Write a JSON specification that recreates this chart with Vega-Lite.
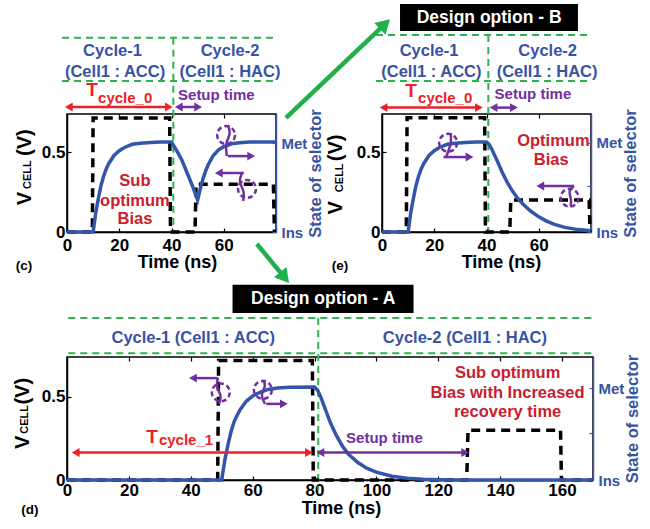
{
"$schema": "https://vega.github.io/schema/vega-lite/v6.json",
"background": "white",
"autosize": {"type": "pad"},
"padding": {"left": 12, "top": 3, "right": 0, "bottom": 0},
"bounds": "full",
"spacing": -1,
"config": {
  "view": {"stroke": "#000000", "strokeWidth": 1.5},
  "font": "Liberation Sans",
  "axis": {"labelFont": "Liberation Sans", "labelFontWeight": "bold", "labelFontSize": 17, "labelColor": "#000000", "titleFont": "Liberation Sans", "titleFontWeight": "bold", "titleFontSize": 18, "titleColor": "#000000", "grid": false, "domainColor": "#000000", "domainWidth": 1.5, "tickColor": "#000000", "tickWidth": 1.2, "tickSize": -4, "labelFlush": false, "labelOverlap": false},
  "text": {"font": "Liberation Sans", "fontWeight": "bold"}
},
"datasets": {
  "c_v": [{"x":0,"y":0},{"x":10,"y":0},{"x":11,"y":0.12},{"x":12,"y":0.21},{"x":13,"y":0.29},{"x":14,"y":0.35},{"x":15,"y":0.395},{"x":16,"y":0.43},{"x":18,"y":0.48},{"x":20,"y":0.51},{"x":22,"y":0.53},{"x":25,"y":0.55},{"x":28,"y":0.557},{"x":32,"y":0.562},{"x":36,"y":0.564},{"x":40,"y":0.565},{"x":42,"y":0.51},{"x":44,"y":0.45},{"x":46,"y":0.37},{"x":48,"y":0.29},{"x":50,"y":0.2},{"x":51,"y":0.27},{"x":52,"y":0.33},{"x":53,"y":0.38},{"x":54,"y":0.42},{"x":56,"y":0.48},{"x":58,"y":0.515},{"x":60,"y":0.535},{"x":63,"y":0.553},{"x":66,"y":0.56},{"x":70,"y":0.565},{"x":80,"y":0.565}],
  "c_s": [{"x":0,"y":0},{"x":9.7,"y":0},{"x":10,"y":0.715},{"x":39.3,"y":0.715},{"x":39.6,"y":0},{"x":49,"y":0},{"x":49.4,"y":0.3},{"x":79,"y":0.3},{"x":79.4,"y":0}],
  "c_rules": [
    {"x":-1.9,"x2":79.6,"y":1.218,"y2":1.218,"kind":"frame"},
    {"x":-1.9,"x2":79.6,"y":0.947,"y2":0.947,"kind":"frame"},
    {"x":40.7,"x2":40.7,"y":1.218,"y2":-0.01,"kind":"frame"},
    {"x":0.7,"x2":39,"y":0.784,"y2":0.784,"kind":"cycle"},
    {"x":42.8,"x2":50.2,"y":0.784,"y2":0.784,"kind":"setup"},
    {"x":61.6,"x2":70.5,"y":0.476,"y2":0.476,"kind":"move"},
    {"x":67.7,"x2":58.1,"y":0.37,"y2":0.37,"kind":"move"},
    {"x":83.8,"x2":121.7,"y":0.715,"y2":1.304,"kind":"link"},
    {"x":72.7,"x2":83.3,"y":-0.075,"y2":-0.286,"kind":"link"}
  ],
  "c_heads": [
    {"x":0.7,"y":0.784,"dir":"L","kind":"cycle"},{"x":39,"y":0.784,"dir":"R","kind":"cycle"},
    {"x":42.8,"y":0.784,"dir":"L","kind":"setup"},{"x":50.2,"y":0.784,"dir":"R","kind":"setup"},
    {"x":70.5,"y":0.476,"dir":"R","kind":"move"},{"x":58.1,"y":0.37,"dir":"L","kind":"move"}
  ],
  "c_links": [{"x":121.7,"y":1.304,"leg":"to B"},{"x":83.3,"y":-0.286,"leg":"to A"}],
  "c_circ": [{"x":60.9,"y":0.608},{"x":68.9,"y":0.27}],
  "c_sq": [
    {"x":61.6,"y":0.671,"id":1,"i":0},{"x":62.8,"y":0.614,"id":1,"i":1},{"x":60.5,"y":0.558,"id":1,"i":2},{"x":61.2,"y":0.476,"id":1,"i":3},
    {"x":67,"y":0.37,"id":2,"i":0},{"x":65.5,"y":0.313,"id":2,"i":1},{"x":68.1,"y":0.257,"id":2,"i":2},{"x":67.4,"y":0.194,"id":2,"i":3}
  ],
  "c_text": [
    {"x":17.4,"y":1.135,"label":"Cycle-1","role":"cycle"},
    {"x":18.4,"y":1.006,"label":"(Cell1 : ACC)","role":"cycle"},
    {"x":62.4,"y":1.135,"label":"Cycle-2","role":"cycle"},
    {"x":62.4,"y":1.006,"label":"(Cell1 : HAC)","role":"cycle"},
    {"x":9.6,"y":0.89,"label":"T","role":"T"},
    {"x":11.9,"y":0.843,"label":"cycle_0","role":"Tsub"},
    {"x":42.5,"y":0.859,"label":"Setup time","role":"setup"},
    {"x":26,"y":0.32,"label":"Sub","role":"bias"},
    {"x":26,"y":0.194,"label":"optimum","role":"bias"},
    {"x":26,"y":0.08,"label":"Bias","role":"bias"},
    {"x":-16.5,"y":-0.213,"label":"(c)","role":"panel"},
    {"x":-16.1,"y":0.21,"label":"V","role":"ybig"},
    {"x":-14.9,"y":0.36,"label":"CELL","role":"ysmall"},
    {"x":-16.1,"y":0.56,"label":"(V)","role":"ybig"}
  ],
  "c_right": [{"x":0,"y":0},{"x":0,"y":0.29},{"x":0,"y":0.556}],
  "e_v": [{"x":0,"y":0},{"x":10,"y":0},{"x":11,"y":0.12},{"x":12,"y":0.21},{"x":13,"y":0.29},{"x":14,"y":0.35},{"x":15,"y":0.395},{"x":16,"y":0.43},{"x":18,"y":0.48},{"x":20,"y":0.51},{"x":22,"y":0.53},{"x":25,"y":0.55},{"x":28,"y":0.557},{"x":32,"y":0.562},{"x":36,"y":0.564},{"x":40,"y":0.565},{"x":41,"y":0.55},{"x":42,"y":0.52},{"x":43,"y":0.485},{"x":44,"y":0.45},{"x":46,"y":0.375},{"x":48,"y":0.31},{"x":50,"y":0.255},{"x":52,"y":0.21},{"x":54,"y":0.174},{"x":57,"y":0.13},{"x":60,"y":0.095},{"x":63,"y":0.068},{"x":66,"y":0.048},{"x":70,"y":0.029},{"x":75,"y":0.015},{"x":80,"y":0.008}],
  "e_s": [{"x":0,"y":0},{"x":9.3,"y":0},{"x":9.6,"y":0.717},{"x":39.3,"y":0.717},{"x":39.6,"y":0},{"x":48.9,"y":0},{"x":49.3,"y":0.2},{"x":79.3,"y":0.2},{"x":79.6,"y":0}],
  "e_rules": [
    {"x":-2.3,"x2":79.6,"y":1.235,"y2":1.235,"kind":"frame"},
    {"x":-2.3,"x2":79.6,"y":0.947,"y2":0.947,"kind":"frame"},
    {"x":40.7,"x2":40.7,"y":1.235,"y2":-0.01,"kind":"frame"},
    {"x":0.6,"x2":37.1,"y":0.78,"y2":0.78,"kind":"cycle"},
    {"x":42.7,"x2":50.5,"y":0.78,"y2":0.78,"kind":"setup"},
    {"x":23.5,"x2":33.5,"y":0.47,"y2":0.47,"kind":"move"},
    {"x":73.5,"x2":60.6,"y":0.288,"y2":0.288,"kind":"move"}
  ],
  "e_heads": [
    {"x":0.6,"y":0.78,"dir":"L","kind":"cycle"},{"x":37.1,"y":0.78,"dir":"R","kind":"cycle"},
    {"x":42.7,"y":0.78,"dir":"L","kind":"setup"},{"x":50.5,"y":0.78,"dir":"R","kind":"setup"},
    {"x":33.5,"y":0.47,"dir":"R","kind":"move"},{"x":60.6,"y":0.288,"dir":"L","kind":"move"}
  ],
  "e_box": [{"x":6.9,"x2":75,"y":1.43,"y2":1.26}],
  "e_circ": [{"x":25.3,"y":0.56},{"x":71.8,"y":0.215}],
  "e_sq": [
    {"x":26.3,"y":0.62,"id":1,"i":0},{"x":26.6,"y":0.56,"id":1,"i":1},{"x":25.2,"y":0.5,"id":1,"i":2},{"x":24.6,"y":0.47,"id":1,"i":3},
    {"x":73.5,"y":0.288,"id":2,"i":0},{"x":71.2,"y":0.262,"id":2,"i":1},{"x":72.6,"y":0.2,"id":2,"i":2},{"x":72.2,"y":0.16,"id":2,"i":3}
  ],
  "e_text": [
    {"x":18,"y":1.135,"label":"Cycle-1","role":"cycle"},
    {"x":18.9,"y":1.003,"label":"(Cell1 : ACC)","role":"cycle"},
    {"x":63.4,"y":1.135,"label":"Cycle-2","role":"cycle"},
    {"x":63.2,"y":1.003,"label":"(Cell1 : HAC)","role":"cycle"},
    {"x":11.1,"y":0.884,"label":"T","role":"T"},
    {"x":13.8,"y":0.842,"label":"cycle_0","role":"Tsub"},
    {"x":43.1,"y":0.867,"label":"Setup time","role":"setup"},
    {"x":65.6,"y":0.57,"label":"Optimum","role":"bias"},
    {"x":64.8,"y":0.45,"label":"Bias","role":"bias"},
    {"x":-16.1,"y":-0.213,"label":"(e)","role":"panel"},
    {"x":41,"y":1.342,"label":"Design option - B","role":"banner"},
    {"x":-17.5,"y":0.152,"label":"V","role":"ybig"},
    {"x":-16.2,"y":0.34,"label":"CELL","role":"ysmall"},
    {"x":-17.5,"y":0.528,"label":"(V)","role":"ybig"}
  ],
  "e_right": [{"x":0,"y":0},{"x":0,"y":0.29},{"x":0,"y":0.56}],
  "d_v": [{"x":0,"y":0},{"x":50,"y":0},{"x":51,"y":0.12},{"x":52,"y":0.21},{"x":53,"y":0.29},{"x":54,"y":0.35},{"x":55,"y":0.39},{"x":56,"y":0.425},{"x":58,"y":0.475},{"x":60,"y":0.505},{"x":62,"y":0.525},{"x":65,"y":0.545},{"x":68,"y":0.553},{"x":72,"y":0.558},{"x":80,"y":0.56},{"x":81,"y":0.54},{"x":82,"y":0.5},{"x":83,"y":0.45},{"x":84,"y":0.4},{"x":85,"y":0.35},{"x":87,"y":0.27},{"x":89,"y":0.205},{"x":91,"y":0.155},{"x":94,"y":0.105},{"x":97,"y":0.07},{"x":100,"y":0.047},{"x":105,"y":0.023},{"x":110,"y":0.011},{"x":115,"y":0.005},{"x":120,"y":0.002},{"x":125,"y":0},{"x":170,"y":0}],
  "d_s": [{"x":0,"y":0},{"x":48.7,"y":0},{"x":49,"y":0.719},{"x":79.3,"y":0.719},{"x":79.6,"y":0},{"x":129.2,"y":0},{"x":129.6,"y":0.3},{"x":159.5,"y":0.3},{"x":159.8,"y":0},{"x":170,"y":0}],
  "d_rules": [
    {"x":0.4,"x2":169.5,"y":0.974,"y2":0.974,"kind":"frame"},
    {"x":0.4,"x2":169.5,"y":0.763,"y2":0.763,"kind":"frame"},
    {"x":81.2,"x2":81.2,"y":0.974,"y2":-0.06,"kind":"frame"},
    {"x":2.8,"x2":78.2,"y":0.165,"y2":0.165,"kind":"cycle"},
    {"x":81.9,"x2":128.7,"y":0.165,"y2":0.165,"kind":"setup"},
    {"x":48.7,"x2":40.7,"y":0.613,"y2":0.613,"kind":"move"},
    {"x":64.4,"x2":70.1,"y":0.458,"y2":0.458,"kind":"move"}
  ],
  "d_heads": [
    {"x":2.8,"y":0.165,"dir":"L","kind":"cycle"},{"x":78.2,"y":0.165,"dir":"R","kind":"cycle"},
    {"x":81.9,"y":0.165,"dir":"L","kind":"setup"},{"x":128.7,"y":0.165,"dir":"R","kind":"setup"},
    {"x":40.7,"y":0.613,"dir":"L","kind":"move"},{"x":70.1,"y":0.458,"dir":"R","kind":"move"}
  ],
  "d_box": [{"x":53.5,"x2":112,"y":1.175,"y2":1.004}],
  "d_circ": [{"x":49.7,"y":0.527},{"x":63.3,"y":0.542}],
  "d_sq": [
    {"x":48.8,"y":0.615,"id":1,"i":0},{"x":48.1,"y":0.56,"id":1,"i":1},{"x":50.1,"y":0.506,"id":1,"i":2},{"x":49.1,"y":0.458,"id":1,"i":3},
    {"x":63.4,"y":0.602,"id":2,"i":0},{"x":64.4,"y":0.566,"id":2,"i":1},{"x":62.4,"y":0.512,"id":2,"i":2},{"x":64,"y":0.458,"id":2,"i":3}
  ],
  "d_text": [
    {"x":40.8,"y":0.853,"label":"Cycle-1 (Cell1 : ACC)","role":"cycle"},
    {"x":128.6,"y":0.855,"label":"Cycle-2 (Cell1 : HAC)","role":"cycle"},
    {"x":27.5,"y":0.261,"label":"T","role":"T"},
    {"x":29.7,"y":0.241,"label":"cycle_1","role":"Tsub"},
    {"x":102.6,"y":0.251,"label":"Setup time","role":"setup"},
    {"x":142.4,"y":0.643,"label":"Sub optimum","role":"bias"},
    {"x":142.4,"y":0.526,"label":"Bias with Increased","role":"bias"},
    {"x":142.4,"y":0.412,"label":"recovery time","role":"bias"},
    {"x":-12,"y":-0.181,"label":"(d)","role":"panel"},
    {"x":82.8,"y":1.09,"label":"Design option - A","role":"banner"},
    {"x":-14.3,"y":0.226,"label":"V","role":"ybig"},
    {"x":-13.7,"y":0.365,"label":"CELL","role":"ysmall"},
    {"x":-14.3,"y":0.534,"label":"(V)","role":"ybig"}
  ],
  "d_right": [{"x":0,"y":0},{"x":0,"y":0.28},{"x":0,"y":0.552}]
},
"vconcat": [
 {
 "hconcat": [
  {
    "width": 209, "height": 118,
    "layer": [
      {
        "encoding": {
          "x": {"field":"x","type":"quantitative","scale":{"domain":[0,80],"nice":false,"zero":false},"axis":{"values":[0,20,40,60],"title":"Time (ns)","titleX":110,"labelPadding":9,"titlePadding":0}},
          "y": {"field":"y","type":"quantitative","scale":{"domain":[0,0.74],"nice":false,"zero":false},"axis":{"values":[0,0.5],"format":"~g","title":null,"labelPadding":6}}
        },
        "layer": [
          {"data":{"name":"c_rules"},"transform":[{"filter":"datum.kind == 'frame'"}],"mark":{"type":"rule","color":"#2db34d","strokeWidth":2,"strokeDash":[7,5]},"encoding":{"x2":{"field":"x2"},"y2":{"field":"y2"}}},
          {"data":{"name":"c_s"},"mark":{"type":"line","color":"#000000","strokeWidth":3.5,"strokeDash":[9,6]},"encoding":{}},
          {"data":{"name":"c_v"},"mark":{"type":"line","color":"#3355aa","strokeWidth":3.5},"encoding":{}},
          {"data":{"name":"c_rules"},"transform":[{"filter":"datum.kind == 'cycle' || datum.kind == 'setup' || datum.kind == 'move'"}],"mark":{"type":"rule","strokeWidth":2.5},"encoding":{"x2":{"field":"x2"},"y2":{"field":"y2"},"color":{"field":"kind","type":"nominal","scale":{"domain":["cycle","setup","move"],"range":["#ec2227","#7030a0","#7030a0"]},"legend":null}}},
          {"data":{"name":"c_heads"},"mark":{"type":"point","filled":true,"size":80,"opacity":1},"encoding":{"shape":{"field":"dir","type":"nominal","scale":{"domain":["L","R"],"range":["triangle-left","triangle-right"]},"legend":null},"color":{"field":"kind","type":"nominal","scale":{"domain":["cycle","setup","move"],"range":["#ec2227","#7030a0","#7030a0"]},"legend":null}}},
          {"data":{"name":"c_circ"},"mark":{"type":"point","shape":"circle","size":320,"filled":false,"color":"#7030a0","strokeWidth":2.5,"strokeDash":[5,3],"opacity":1}},
          {"data":{"name":"c_sq"},"mark":{"type":"line","color":"#7030a0","strokeWidth":2.5,"interpolate":"basis"},"encoding":{"detail":{"field":"id","type":"nominal"},"order":{"field":"i","type":"quantitative"}}},
          {"data":{"name":"c_rules"},"transform":[{"filter":"datum.kind == 'link'"}],"mark":{"type":"rule","color":"#1faf4b","strokeWidth":4.5},"encoding":{"x2":{"field":"x2"},"y2":{"field":"y2"}}},
          {"data":{"name":"c_links"},"transform":[{"filter":"datum.leg == 'to B'"}],"mark":{"type":"point","shape":"triangle-up","filled":true,"size":260,"opacity":1,"color":"#1faf4b","angle":46}},
          {"data":{"name":"c_links"},"transform":[{"filter":"datum.leg == 'to A'"}],"mark":{"type":"point","shape":"triangle-up","filled":true,"size":260,"opacity":1,"color":"#1faf4b","angle":141}},
          {"data":{"name":"c_text"},"transform":[{"filter":"datum.role == 'cycle'"}],"mark":{"type":"text","color":"#3753a4","fontSize":16.5},"encoding":{"text":{"field":"label","type":"nominal"}}},
          {"data":{"name":"c_text"},"transform":[{"filter":"datum.role == 'T'"}],"mark":{"type":"text","color":"#ec2227","fontSize":19},"encoding":{"text":{"field":"label","type":"nominal"}}},
          {"data":{"name":"c_text"},"transform":[{"filter":"datum.role == 'Tsub'"}],"mark":{"type":"text","color":"#ec2227","fontSize":15,"align":"left"},"encoding":{"text":{"field":"label","type":"nominal"}}},
          {"data":{"name":"c_text"},"transform":[{"filter":"datum.role == 'setup'"}],"mark":{"type":"text","color":"#7030a0","fontSize":15,"align":"left"},"encoding":{"text":{"field":"label","type":"nominal"}}},
          {"data":{"name":"c_text"},"transform":[{"filter":"datum.role == 'bias'"}],"mark":{"type":"text","color":"#c8202c","fontSize":16.5},"encoding":{"text":{"field":"label","type":"nominal"}}},
          {"data":{"name":"c_text"},"transform":[{"filter":"datum.role == 'panel'"}],"mark":{"type":"text","color":"#000000","fontSize":13.5},"encoding":{"text":{"field":"label","type":"nominal"}}},
          {"data":{"name":"c_text"},"transform":[{"filter":"datum.role == 'ybig'"}],"mark":{"type":"text","color":"#000000","fontSize":20,"angle":270},"encoding":{"text":{"field":"label","type":"nominal"}}},
          {"data":{"name":"c_text"},"transform":[{"filter":"datum.role == 'ysmall'"}],"mark":{"type":"text","color":"#000000","fontSize":11,"angle":270},"encoding":{"text":{"field":"label","type":"nominal"}}}
        ]
      },
      {
        "data": {"name": "c_right"},
        "mark": {"type": "point", "opacity": 0},
        "encoding": {
          "x": {"field":"x","type":"quantitative","scale":{"domain":[0,80],"nice":false,"zero":false},"axis":{"orient":"top","values":[20,40,60],"labels":false,"domain":false,"title":null}},
          "y": {"field":"y","type":"quantitative","scale":{"domain":[0,0.74],"nice":false,"zero":false},"axis":{"orient":"right","values":[0,0.29,0.556],"labelExpr":"datum.value < 0.1 ? 'Ins' : (datum.value > 0.5 ? 'Met' : '')","labelColor":"#3753a4","labelFontSize":15,"labelPadding":9,"domainColor":"#3d5ba8","tickColor":"#3d5ba8","title":"State of selector","titleColor":"#3753a4","titleFontSize":16.5,"titleAngle":270,"titleBaseline":"top","titlePadding":1}}}
      }
    ],
    "resolve": {"scale": {"y": "independent"}, "axis": {"y": "independent", "x": "independent"}}
  },
  {
    "width": 209, "height": 118,
    "layer": [
      {
        "encoding": {
          "x": {"field":"x","type":"quantitative","scale":{"domain":[0,80],"nice":false,"zero":false},"axis":{"values":[0,20,40,60],"title":"Time (ns)","titleX":119,"labelPadding":9,"titlePadding":0}},
          "y": {"field":"y","type":"quantitative","scale":{"domain":[0,0.74],"nice":false,"zero":false},"axis":{"values":[0,0.5],"format":"~g","title":null,"labelPadding":6}}
        },
        "layer": [
          {"data":{"name":"e_box"},"mark":{"type":"rect","color":"#000000"},"encoding":{"x2":{"field":"x2"},"y2":{"field":"y2"}}},
          {"data":{"name":"e_rules"},"transform":[{"filter":"datum.kind == 'frame'"}],"mark":{"type":"rule","color":"#2db34d","strokeWidth":2,"strokeDash":[7,5]},"encoding":{"x2":{"field":"x2"},"y2":{"field":"y2"}}},
          {"data":{"name":"e_s"},"mark":{"type":"line","color":"#000000","strokeWidth":3.5,"strokeDash":[9,6]},"encoding":{}},
          {"data":{"name":"e_v"},"mark":{"type":"line","color":"#3355aa","strokeWidth":3.5},"encoding":{}},
          {"data":{"name":"e_rules"},"transform":[{"filter":"datum.kind == 'cycle' || datum.kind == 'setup' || datum.kind == 'move'"}],"mark":{"type":"rule","strokeWidth":2.5},"encoding":{"x2":{"field":"x2"},"y2":{"field":"y2"},"color":{"field":"kind","type":"nominal","scale":{"domain":["cycle","setup","move"],"range":["#ec2227","#7030a0","#7030a0"]},"legend":null}}},
          {"data":{"name":"e_heads"},"mark":{"type":"point","filled":true,"size":80,"opacity":1},"encoding":{"shape":{"field":"dir","type":"nominal","scale":{"domain":["L","R"],"range":["triangle-left","triangle-right"]},"legend":null},"color":{"field":"kind","type":"nominal","scale":{"domain":["cycle","setup","move"],"range":["#ec2227","#7030a0","#7030a0"]},"legend":null}}},
          {"data":{"name":"e_circ"},"mark":{"type":"point","shape":"circle","size":320,"filled":false,"color":"#7030a0","strokeWidth":2.5,"strokeDash":[5,3],"opacity":1}},
          {"data":{"name":"e_sq"},"mark":{"type":"line","color":"#7030a0","strokeWidth":2.5,"interpolate":"basis"},"encoding":{"detail":{"field":"id","type":"nominal"},"order":{"field":"i","type":"quantitative"}}},
          {"data":{"name":"e_text"},"transform":[{"filter":"datum.role == 'banner'"}],"mark":{"type":"text","color":"#ffffff","fontSize":17.5},"encoding":{"text":{"field":"label","type":"nominal"}}},
          {"data":{"name":"e_text"},"transform":[{"filter":"datum.role == 'cycle'"}],"mark":{"type":"text","color":"#3753a4","fontSize":16.5},"encoding":{"text":{"field":"label","type":"nominal"}}},
          {"data":{"name":"e_text"},"transform":[{"filter":"datum.role == 'T'"}],"mark":{"type":"text","color":"#ec2227","fontSize":19},"encoding":{"text":{"field":"label","type":"nominal"}}},
          {"data":{"name":"e_text"},"transform":[{"filter":"datum.role == 'Tsub'"}],"mark":{"type":"text","color":"#ec2227","fontSize":15,"align":"left"},"encoding":{"text":{"field":"label","type":"nominal"}}},
          {"data":{"name":"e_text"},"transform":[{"filter":"datum.role == 'setup'"}],"mark":{"type":"text","color":"#7030a0","fontSize":15,"align":"left"},"encoding":{"text":{"field":"label","type":"nominal"}}},
          {"data":{"name":"e_text"},"transform":[{"filter":"datum.role == 'bias'"}],"mark":{"type":"text","color":"#c8202c","fontSize":16.5},"encoding":{"text":{"field":"label","type":"nominal"}}},
          {"data":{"name":"e_text"},"transform":[{"filter":"datum.role == 'panel'"}],"mark":{"type":"text","color":"#000000","fontSize":13.5},"encoding":{"text":{"field":"label","type":"nominal"}}},
          {"data":{"name":"e_text"},"transform":[{"filter":"datum.role == 'ybig'"}],"mark":{"type":"text","color":"#000000","fontSize":20,"angle":270},"encoding":{"text":{"field":"label","type":"nominal"}}},
          {"data":{"name":"e_text"},"transform":[{"filter":"datum.role == 'ysmall'"}],"mark":{"type":"text","color":"#000000","fontSize":11,"angle":270},"encoding":{"text":{"field":"label","type":"nominal"}}}
        ]
      },
      {
        "data": {"name": "e_right"},
        "mark": {"type": "point", "opacity": 0},
        "encoding": {
          "x": {"field":"x","type":"quantitative","scale":{"domain":[0,80],"nice":false,"zero":false},"axis":{"orient":"top","values":[20,40,60],"labels":false,"domain":false,"title":null}},
          "y": {"field":"y","type":"quantitative","scale":{"domain":[0,0.74],"nice":false,"zero":false},"axis":{"orient":"right","values":[0,0.29,0.56],"labelExpr":"datum.value < 0.1 ? 'Ins' : (datum.value > 0.5 ? 'Met' : '')","labelColor":"#3753a4","labelFontSize":15,"labelPadding":9,"domainColor":"#3d5ba8","tickColor":"#3d5ba8","title":"State of selector","titleColor":"#3753a4","titleFontSize":16.5,"titleAngle":270,"titleBaseline":"top","titlePadding":1}}}
      }
    ],
    "resolve": {"scale": {"y": "independent"}, "axis": {"y": "independent", "x": "independent"}}
  }
 ],
 "bounds": "flush",
 "spacing": 106
 },
  {
    "width": 526, "height": 123,
    "layer": [
      {
        "encoding": {
          "x": {"field":"x","type":"quantitative","scale":{"domain":[0,170],"nice":false,"zero":false},"axis":{"values":[0,20,40,60,80,100,120,140,160],"title":"Time (ns)","titleX":274,"labelPadding":6,"titlePadding":1}},
          "y": {"field":"y","type":"quantitative","scale":{"domain":[0,0.74],"nice":false,"zero":false},"axis":{"values":[0,0.5],"format":"~g","title":null,"labelPadding":6}}
        },
        "layer": [
          {"data":{"name":"d_box"},"mark":{"type":"rect","color":"#000000"},"encoding":{"x2":{"field":"x2"},"y2":{"field":"y2"}}},
          {"data":{"name":"d_rules"},"transform":[{"filter":"datum.kind == 'frame'"}],"mark":{"type":"rule","color":"#2db34d","strokeWidth":2,"strokeDash":[7,5]},"encoding":{"x2":{"field":"x2"},"y2":{"field":"y2"}}},
          {"data":{"name":"d_s"},"mark":{"type":"line","color":"#000000","strokeWidth":3.5,"strokeDash":[9,6]},"encoding":{}},
          {"data":{"name":"d_v"},"mark":{"type":"line","color":"#3355aa","strokeWidth":3.5},"encoding":{}},
          {"data":{"name":"d_rules"},"transform":[{"filter":"datum.kind == 'cycle' || datum.kind == 'setup' || datum.kind == 'move'"}],"mark":{"type":"rule","strokeWidth":2.5},"encoding":{"x2":{"field":"x2"},"y2":{"field":"y2"},"color":{"field":"kind","type":"nominal","scale":{"domain":["cycle","setup","move"],"range":["#ec2227","#7030a0","#7030a0"]},"legend":null}}},
          {"data":{"name":"d_heads"},"mark":{"type":"point","filled":true,"size":80,"opacity":1},"encoding":{"shape":{"field":"dir","type":"nominal","scale":{"domain":["L","R"],"range":["triangle-left","triangle-right"]},"legend":null},"color":{"field":"kind","type":"nominal","scale":{"domain":["cycle","setup","move"],"range":["#ec2227","#7030a0","#7030a0"]},"legend":null}}},
          {"data":{"name":"d_circ"},"mark":{"type":"point","shape":"circle","size":320,"filled":false,"color":"#7030a0","strokeWidth":2.5,"strokeDash":[5,3],"opacity":1}},
          {"data":{"name":"d_sq"},"mark":{"type":"line","color":"#7030a0","strokeWidth":2.5,"interpolate":"basis"},"encoding":{"detail":{"field":"id","type":"nominal"},"order":{"field":"i","type":"quantitative"}}},
          {"data":{"name":"d_text"},"transform":[{"filter":"datum.role == 'banner'"}],"mark":{"type":"text","color":"#ffffff","fontSize":17.5},"encoding":{"text":{"field":"label","type":"nominal"}}},
          {"data":{"name":"d_text"},"transform":[{"filter":"datum.role == 'cycle'"}],"mark":{"type":"text","color":"#3753a4","fontSize":16.5},"encoding":{"text":{"field":"label","type":"nominal"}}},
          {"data":{"name":"d_text"},"transform":[{"filter":"datum.role == 'T'"}],"mark":{"type":"text","color":"#ec2227","fontSize":19},"encoding":{"text":{"field":"label","type":"nominal"}}},
          {"data":{"name":"d_text"},"transform":[{"filter":"datum.role == 'Tsub'"}],"mark":{"type":"text","color":"#ec2227","fontSize":15,"align":"left"},"encoding":{"text":{"field":"label","type":"nominal"}}},
          {"data":{"name":"d_text"},"transform":[{"filter":"datum.role == 'setup'"}],"mark":{"type":"text","color":"#7030a0","fontSize":15},"encoding":{"text":{"field":"label","type":"nominal"}}},
          {"data":{"name":"d_text"},"transform":[{"filter":"datum.role == 'bias'"}],"mark":{"type":"text","color":"#c8202c","fontSize":16.5},"encoding":{"text":{"field":"label","type":"nominal"}}},
          {"data":{"name":"d_text"},"transform":[{"filter":"datum.role == 'panel'"}],"mark":{"type":"text","color":"#000000","fontSize":13.5},"encoding":{"text":{"field":"label","type":"nominal"}}},
          {"data":{"name":"d_text"},"transform":[{"filter":"datum.role == 'ybig'"}],"mark":{"type":"text","color":"#000000","fontSize":20,"angle":270},"encoding":{"text":{"field":"label","type":"nominal"}}},
          {"data":{"name":"d_text"},"transform":[{"filter":"datum.role == 'ysmall'"}],"mark":{"type":"text","color":"#000000","fontSize":11,"angle":270},"encoding":{"text":{"field":"label","type":"nominal"}}}
        ]
      },
      {
        "data": {"name": "d_right"},
        "mark": {"type": "point", "opacity": 0},
        "encoding": {
          "x": {"field":"x","type":"quantitative","scale":{"domain":[0,170],"nice":false,"zero":false},"axis":{"orient":"top","values":[20,40,60,80,100,120,140,160],"labels":false,"domain":false,"title":null}},
          "y": {"field":"y","type":"quantitative","scale":{"domain":[0,0.74],"nice":false,"zero":false},"axis":{"orient":"right","values":[0,0.28,0.552],"labelExpr":"datum.value < 0.1 ? 'Ins' : (datum.value > 0.5 ? 'Met' : '')","labelColor":"#3753a4","labelFontSize":15,"labelPadding":9,"domainColor":"#3d5ba8","tickColor":"#3d5ba8","title":"State of selector","titleColor":"#3753a4","titleFontSize":16.5,"titleAngle":270,"titleBaseline":"top","titlePadding":1}}}
      }
    ],
    "resolve": {"scale": {"y": "independent"}, "axis": {"y": "independent", "x": "independent"}}
  }
]
}
